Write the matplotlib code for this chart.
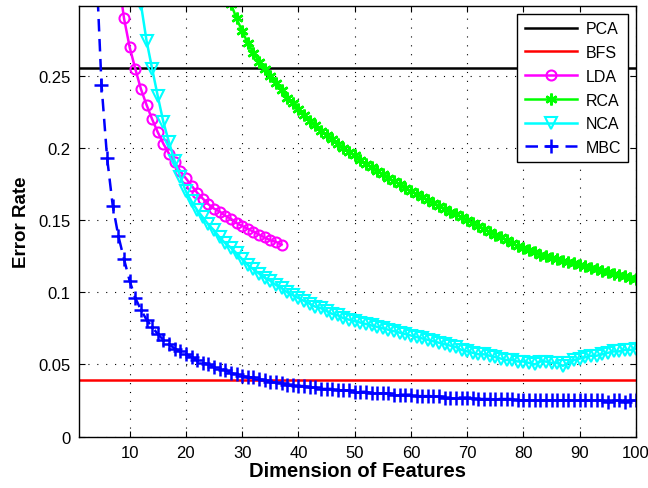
import numpy as np
import matplotlib
matplotlib.use('Agg')
import matplotlib.pyplot as plt

plt.rcParams['font.family'] = ['Liberation Sans', 'DejaVu Sans']

# baselines (constant error rate)
pca_err = 0.2556
bfs_err = 0.039

# LDA, dims 8..37
lda_dims = np.arange(8, 38)
lda_err = [0.318, 0.290, 0.270, 0.255, 0.241, 0.230, 0.220, 0.211, 0.203, 0.196,
           0.190, 0.184, 0.179, 0.174, 0.169, 0.165, 0.161, 0.158, 0.156, 0.153,
           0.151, 0.148, 0.146, 0.144, 0.142, 0.140, 0.138, 0.136, 0.135, 0.133]

# RCA, dims 27..100
rca_dims = np.arange(27, 101)
rca_err = [0.312, 0.300, 0.290, 0.281, 0.273, 0.266, 0.260, 0.255, 0.250, 0.245,
           0.240, 0.235, 0.231, 0.227, 0.223, 0.219, 0.216, 0.212, 0.209, 0.206,
           0.203, 0.200, 0.197, 0.195, 0.192, 0.189, 0.187, 0.184, 0.182, 0.179,
           0.177, 0.175, 0.172, 0.170, 0.168, 0.166, 0.164, 0.162, 0.160, 0.158,
           0.156, 0.154, 0.152, 0.150, 0.148, 0.146, 0.144, 0.142, 0.140, 0.138,
           0.136, 0.134, 0.132, 0.131, 0.129, 0.128, 0.126, 0.125, 0.124, 0.123,
           0.122, 0.121, 0.120, 0.119, 0.118, 0.117, 0.116, 0.115, 0.114, 0.113,
           0.112, 0.111, 0.110, 0.109]

# NCA, dims 11..100
nca_dims = np.arange(11, 101)
nca_err = [0.330, 0.300, 0.2745, 0.255, 0.236, 0.218, 0.204, 0.191, 0.180, 0.170,
           0.163, 0.157, 0.152, 0.147, 0.143, 0.138, 0.134, 0.131, 0.127, 0.123,
           0.119, 0.116, 0.113, 0.110, 0.108, 0.105, 0.103, 0.100, 0.098, 0.096,
           0.094, 0.092, 0.090, 0.089, 0.087, 0.085, 0.084, 0.082, 0.081, 0.080,
           0.079, 0.078, 0.077, 0.076, 0.075, 0.074, 0.073, 0.072, 0.071, 0.070,
           0.069, 0.068, 0.067, 0.066, 0.065, 0.064, 0.063, 0.062, 0.060, 0.059,
           0.058, 0.057, 0.057, 0.056, 0.055, 0.054, 0.053, 0.053, 0.052, 0.052,
           0.051, 0.050, 0.052, 0.052, 0.051, 0.051, 0.049, 0.051, 0.053, 0.054,
           0.055, 0.056, 0.056, 0.057, 0.058, 0.059, 0.059, 0.060, 0.060, 0.061]

# MBC, dims 4..100
mbc_dims = np.arange(4, 101)
mbc_err = [0.333, 0.244, 0.193, 0.160, 0.139, 0.123, 0.108, 0.096, 0.088, 0.081,
           0.076, 0.071, 0.067, 0.064, 0.061, 0.059, 0.057, 0.055, 0.053, 0.051,
           0.050, 0.048, 0.047, 0.046, 0.044, 0.043, 0.042, 0.041, 0.041, 0.040,
           0.039, 0.038, 0.038, 0.037, 0.036, 0.036, 0.035, 0.035, 0.034, 0.034,
           0.033, 0.033, 0.033, 0.032, 0.032, 0.032, 0.031, 0.031, 0.031, 0.030,
           0.030, 0.030, 0.030, 0.029, 0.029, 0.029, 0.029, 0.028, 0.028, 0.028,
           0.028, 0.028, 0.027, 0.027, 0.027, 0.027, 0.027, 0.027, 0.026, 0.026,
           0.026, 0.026, 0.026, 0.026, 0.026, 0.025, 0.025, 0.025, 0.025, 0.025,
           0.025, 0.025, 0.025, 0.025, 0.025, 0.025, 0.025, 0.025, 0.025, 0.025,
           0.025, 0.024, 0.025, 0.025, 0.024, 0.025, 0.025]

x_range = [1, 100]
xticks = [10, 20, 30, 40, 50, 60, 70, 80, 90, 100]
yticks = [0, 0.05, 0.1, 0.15, 0.2, 0.25]
ytick_labels = ['0', '0.05', '0.1', '0.15', '0.2', '0.25']

fig = plt.figure(figsize=(6.48, 4.89), dpi=100)
ax = fig.add_axes([0.1219, 0.1053, 0.8596, 0.8804])

lw = 1.8
ax.plot(x_range, [pca_err, pca_err], color='black', lw=lw, label='PCA')
ax.plot(x_range, [bfs_err, bfs_err], color='red', lw=lw, label='BFS')
ax.plot(lda_dims, lda_err, color='magenta', lw=lw, marker='o', ms=7.2,
        mfc='none', mew=1.5, label='LDA')
ax.plot(rca_dims, rca_err, color='#00ff00', lw=lw, marker=(6, 2, 0), ms=8.5,
        mew=1.8, label='RCA')
ax.plot(nca_dims, nca_err, color='cyan', lw=lw, marker='v', ms=9,
        mfc='none', mew=1.5, label='NCA')
ax.plot(mbc_dims, mbc_err, color='blue', lw=lw, ls=(0, (5, 3)), marker='+',
        ms=10, mew=1.8, label='MBC')

ax.set_xlim(1, 100)
ax.set_ylim(0, 0.2985)
ax.set_xticks(xticks)
ax.set_xticklabels([str(t) for t in xticks])
ax.set_yticks(yticks)
ax.set_yticklabels(ytick_labels)
ax.tick_params(direction='in', top=True, right=True, labelsize=12, length=4, pad=6)
ax.grid(True, color='black', ls=(0, (1, 7)), lw=0.8)
for s in ax.spines.values():
    s.set_linewidth(1.0)

ax.set_xlabel('Dimension of Features', fontsize=14.5, fontweight='bold', labelpad=1)
ax.set_ylabel('Error Rate', fontsize=13.5, fontweight='bold', labelpad=6)

leg = ax.legend(loc='upper right', numpoints=1, fontsize=11.5, handlelength=3.3,
                labelspacing=0.55, borderaxespad=0.5, fancybox=False,
                framealpha=1, edgecolor='black', handletextpad=0.5,
                borderpad=0.45)
leg.get_frame().set_linewidth(1.0)

plt.savefig('out.png', dpi=100)
